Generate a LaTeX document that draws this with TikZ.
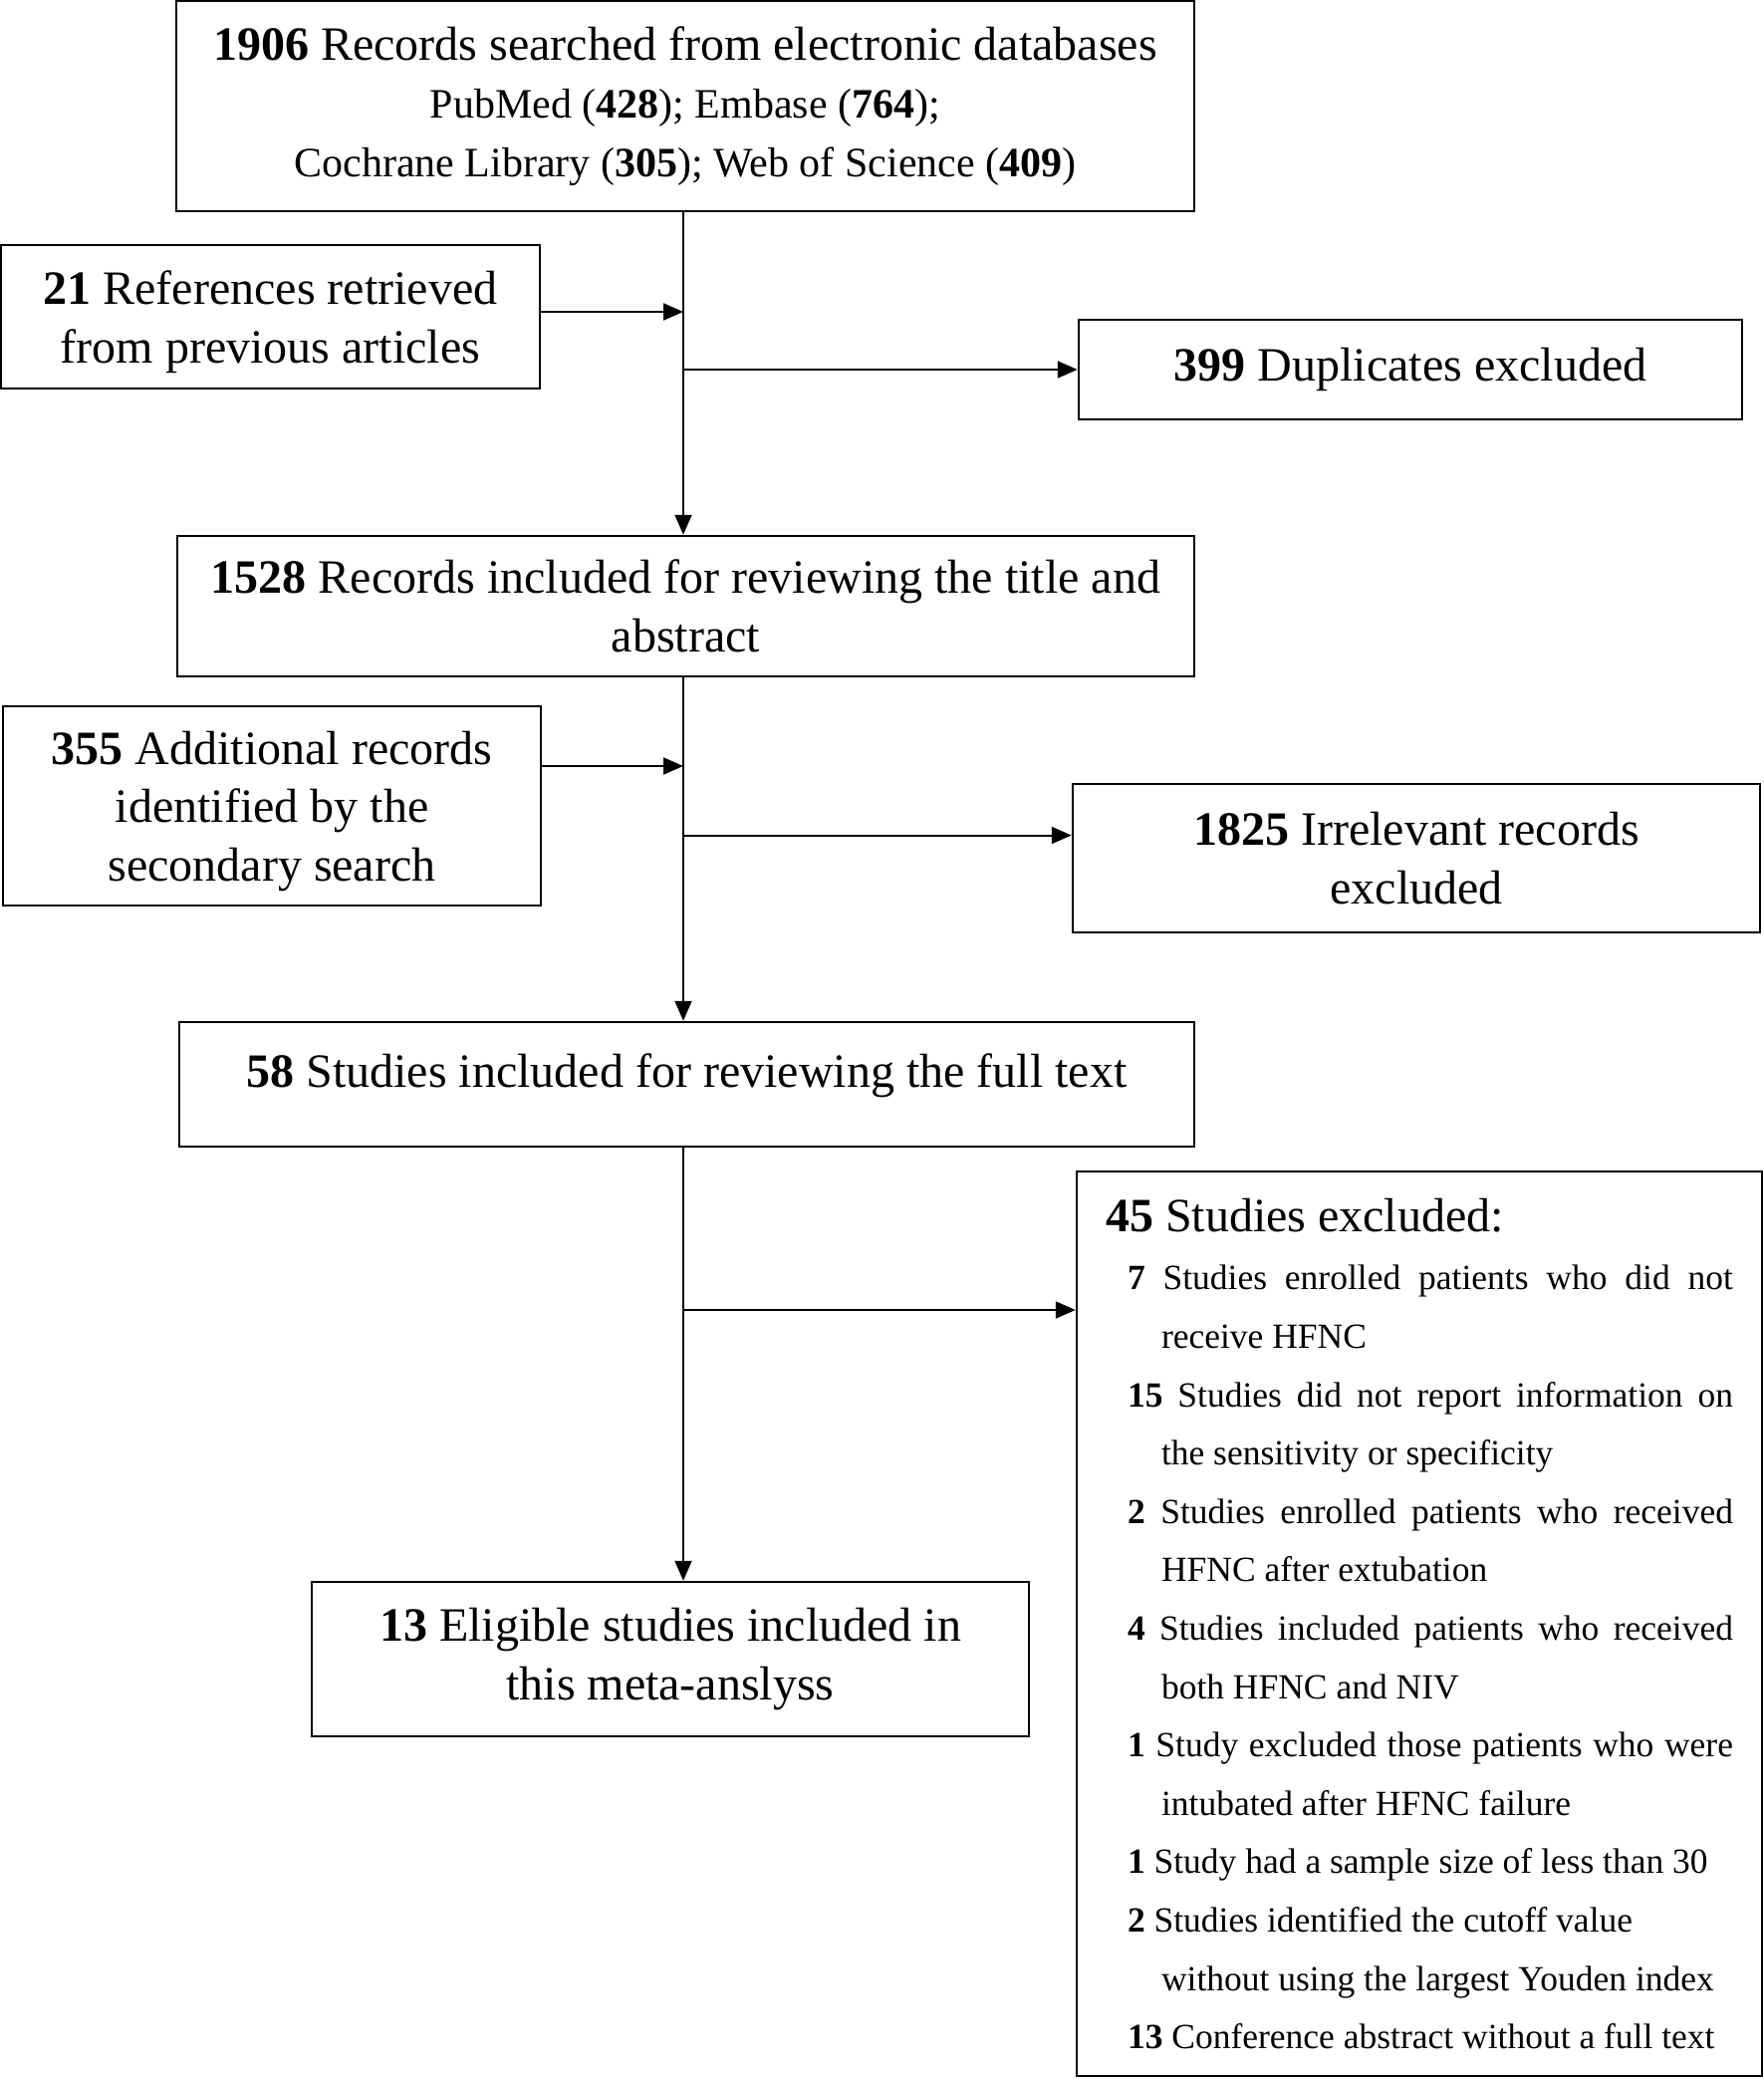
\documentclass[tikz,border=0pt]{standalone}
\usepackage{fontspec}
\setmainfont{Liberation Serif}
\usetikzlibrary{arrows.meta}

\newcommand{\boxfont}{\fontsize{48}{58.6}\selectfont}
\newcommand{\subfont}{\fontsize{42}{58.6}\selectfont}
\newcommand{\listfont}{\fontsize{35.5}{58.6}\selectfont\hyphenpenalty=10000}
\newcommand{\exitem}[2]{\par\leftskip=22pt\hangindent=34pt\hangafter=1\noindent\textbf{#1} #2}

\tikzset{
    stagebox/.style={draw, line width=2.5pt, align=center, font=\boxfont, inner sep=0pt},
    flow/.style={line width=2pt, -{Triangle[length=20pt, width=17pt]}}
}

\begin{document}
\begin{tikzpicture}[x=1pt, y=-1pt]
\useasboundingbox (0,0) rectangle (1770,2087);

% the boxes
\node (search) [stagebox, minimum width=1022, minimum height=211] at (688,106.5)
    {\textbf{1906} Records searched from electronic databases\\
     \subfont PubMed (\textbf{428}); Embase (\textbf{764});\\
     \subfont Cochrane Library (\textbf{305}); Web of Science (\textbf{409})};
\node (refs) [stagebox, minimum width=541, minimum height=144, text depth=0pt] at (271.5,318)
    {\textbf{21} References retrieved\\from previous articles};
\node (dup) [stagebox, minimum width=666, minimum height=100] at (1416,371)
    {\textbf{399} Duplicates excluded};
\node (title) [stagebox, minimum width=1021, minimum height=141] at (688.5,608.5)
    {\textbf{1528} Records included for reviewing the title and\\abstract};
\node (extra) [stagebox, minimum width=540, minimum height=200, text depth=0pt] at (273,809)
    {\textbf{355} Additional records\\identified by the\\secondary search};
\node (irrel) [stagebox, minimum width=690, minimum height=149] at (1422,861.5)
    {\textbf{1825} Irrelevant records\\excluded};
\node (fulltext) [stagebox, minimum width=1019, minimum height=125, text depth=27pt] at (689.5,1088.5)
    {\textbf{58} Studies included for reviewing the full text};
\node (excl) [draw, line width=2.5pt, inner xsep=29pt, inner ysep=0pt, text width=630,
    align=justify, minimum height=908] at (1425,1630)
    {\boxfont\noindent\textbf{45} Studies excluded:\listfont
     \exitem{7}{Studies enrolled patients who did not\linebreak receive HFNC}
     \exitem{15}{Studies did not report information on\linebreak the sensitivity or specificity}
     \exitem{2}{Studies enrolled patients who received\linebreak HFNC after extubation}
     \exitem{4}{Studies included patients who received\linebreak both HFNC and NIV}
     \exitem{1}{Study excluded those patients who were\linebreak intubated after HFNC failure}
     \exitem{1}{Study had a sample size of less than 30}
     \exitem{2}{Studies identified the cutoff value\newline without using the largest Youden index}
     \exitem{13}{Conference abstract without a full text}\par};
\node (final) [stagebox, minimum width=720, minimum height=155] at (673,1665.5)
    {\textbf{13} Eligible studies included in\\this meta-anslyss};

% main line
\coordinate (spine) at (686,0);
\draw[flow] (search.south -| spine) -- (title.north -| spine);
\draw[flow] (title.south -| spine) -- (fulltext.north -| spine);
\draw[flow] (fulltext.south -| spine) -- (final.north -| spine);

% side arrows
\draw[flow] ([yshift=5pt]refs.east) -- ([yshift=5pt]refs.east -| spine);
\draw[flow] ([yshift=40pt]extra.east) -- ([yshift=40pt]extra.east -| spine);
\draw[flow] (dup.west -| spine) -- (dup.west);
\draw[flow] ([yshift=23pt]irrel.west -| spine) -- ([yshift=23pt]irrel.west);
\draw[flow] ([yshift=315pt]excl.west -| spine) -- ([yshift=315pt]excl.west);

\end{tikzpicture}
\end{document}
